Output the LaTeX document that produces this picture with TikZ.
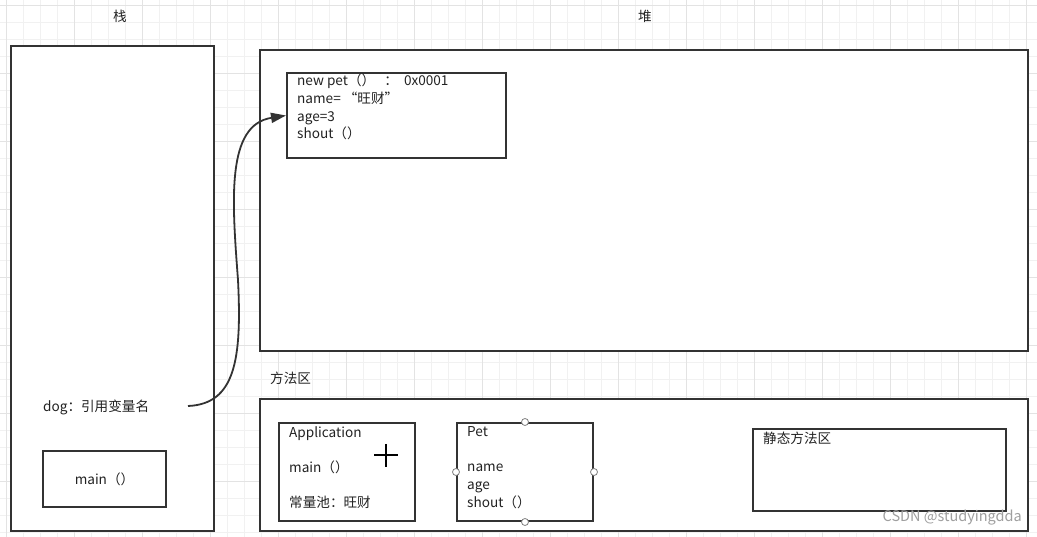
\documentclass[tikz,border=0pt]{standalone}
\usepackage{fontspec}
\setmainfont{Noto Sans CJK SC}
\usetikzlibrary{arrows.meta,positioning}
\definecolor{edge}{HTML}{333333}
\definecolor{ink}{HTML}{222222}
\definecolor{gridminor}{HTML}{F1F1F1}
\definecolor{gridmajor}{HTML}{E3E3E3}

\begin{document}
\begin{tikzpicture}[x=1pt, y=-1pt,
  box/.style={draw=edge, line width=2pt, fill=white, inner sep=0pt, anchor=north west},
  txt/.style={inner sep=0pt, text=ink, align=left, font=\fontsize{13.6}{17.6}\selectfont},
  handle/.style={circle, draw=gray, fill=white, line width=0.8pt, minimum size=7pt, inner sep=0pt},
  link/.style={draw=edge, line width=1.8pt, -{Triangle[length=15pt,width=10pt]}}]
\useasboundingbox (0,0) rectangle (1037,537);
\fill[white] (0,0) rectangle (1037,537);
% background grid
\foreach \k in {0,...,60} \draw[gridminor, line width=1pt] ({6.7+17*\k},0) -- ({6.7+17*\k},537);
\foreach \k in {0,...,31} \draw[gridminor, line width=1pt] (0,{5.5+17*\k}) -- (1037,{5.5+17*\k});
\foreach \k in {0,4,...,60} \draw[gridmajor, line width=1pt] ({6.7+17*\k},0) -- ({6.7+17*\k},537);
\foreach \k in {0,4,...,28} \draw[gridmajor, line width=1pt] (0,{5.5+17*\k}) -- (1037,{5.5+17*\k});

% stack
\node[txt] (stacklbl) at (120,16) {栈};
\node[box, minimum width=203pt, minimum height=485pt] (stack) at (10,45) {};
\node[txt, anchor=west] (dog) at (43,407) {dog：引用变量名};
\coordinate (dogref) at (188,406);
\node[box, minimum width=123pt, minimum height=56pt] (mainbox) at (42,450) {};
\node[txt] (maintxt) at (mainbox.center) {main（）};

% heap
\node[txt] (heaplbl) at (645,16) {堆};
\node[box, minimum width=768pt, minimum height=301pt] (heap) at (259,49) {};
\node[box, minimum width=219pt, minimum height=85pt] (obj) at (286,72) {};
\node[txt, anchor=north west] (objtxt) at (297,74) {new pet（）\ \ \ ：\ \ 0x0001\\name= “旺财”\\age=3\\shout（）};

% method area
\node[txt, anchor=west] (methodlbl) at (270,378) {方法区};
\node[box, minimum width=768pt, minimum height=132pt] (method) at (259,398) {};
\node[box, minimum width=136pt, minimum height=98pt] (app) at (278,422) {};
\node[txt, anchor=north west] (apptxt) at (289,426.5) {Application\\[17.6pt]main（）\\[17.6pt]常量池：旺财};
\node[box, minimum width=136pt, minimum height=98pt] (pet) at (456,422) {};
\node[txt, anchor=north west] (pettxt) at (467,426.5) {Pet\\[17.6pt]name\\age\\shout（）};
\foreach \a in {north,south,east,west} \node[handle] at (pet.\a) {};
\node[box, minimum width=253pt, minimum height=82pt] (static) at (752,428) {};
\node[txt, anchor=north west] (statictxt) at (763,432) {静态方法区};

% cursor
\draw[black, line width=1.6pt] (374,455) -- (398,455) (386,444) -- (386,467);

% reference
\draw[link] (dogref) .. controls (235,404) and (242,360) .. (238,280)
  .. controls (232,200) and (226,125) .. (obj.west);

\node[inner sep=0pt, text=gray!75, font=\fontsize{14.5}{16}\selectfont, anchor=east] (mark) at (1022,518) {CSDN @studyingdda};
\end{tikzpicture}
\end{document}
